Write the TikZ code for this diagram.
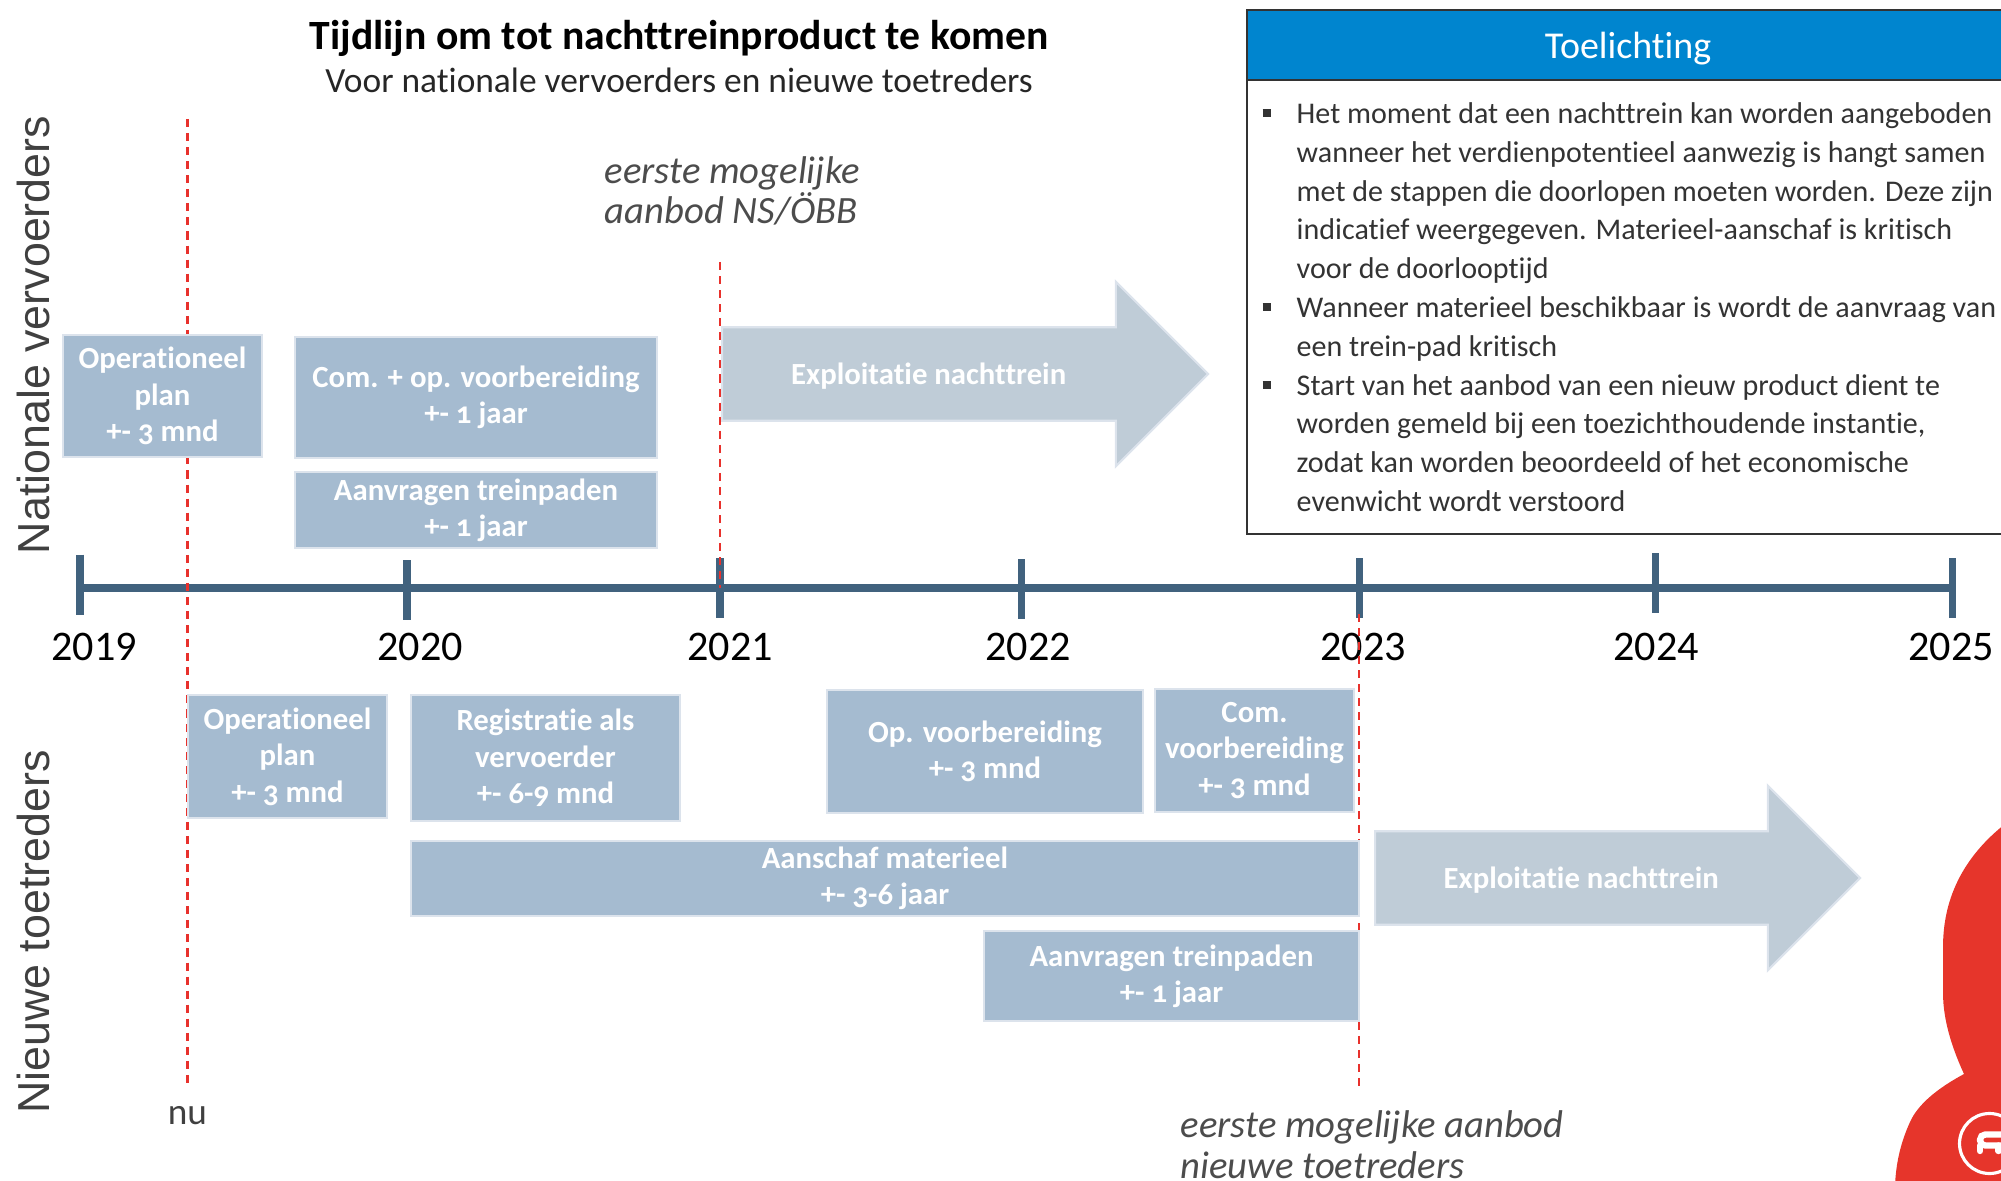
\documentclass[tikz,border=0pt]{standalone}
\usepackage{fontspec}
\setmainfont{Carlito}[Numbers=OldStyle, Ligatures=NoCommon]
\newfontfamily\yearfont{Carlito}
\newfontfamily\sidefont{Liberation Sans}
\usetikzlibrary{shapes.arrows}
\newcommand{\sqbullet}{\llap{\raisebox{0.45ex}{\rule{0.085cm}{0.08cm}}\hspace{0.255cm}}}
\begin{document}
\begin{tikzpicture}[
  taskbox/.style={rectangle, fill=taskblue, draw=taskedge, line width=0.8pt, align=center, text=white, font=\fontsize{8.75}{10.35}\selectfont\bfseries, inner sep=0pt, execute at begin node={\rule{0pt}{9.4pt}}},
  runarrow/.style={single arrow, single arrow head extend=0.455cm, single arrow head indent=0pt, minimum width=1.83cm, inner xsep=0pt, inner ysep=10pt, text height=6pt, text depth=0pt, fill=arrowgrey, draw=taskedge, line width=0.6pt, text=white, font=\fontsize{8.75}{10.2}\selectfont\bfseries},
  nowline/.style={nowred, dash pattern=on 2.3pt off 1.7pt, line width=0.6pt},
  axisline/.style={axisblue, line width=2.1pt},
  tickline/.style={axisblue, line width=2pt},
  yearlabel/.style={font=\fontsize{12}{12}\selectfont\yearfont, inner sep=0pt},
  sidelabel/.style={rotate=90, font=\fontsize{12.75}{14}\selectfont\sidefont, text=black!75, inner sep=0pt},
  notelabel/.style={anchor=west, align=left, font=\fontsize{11}{11.6}\selectfont\itshape, text=black!70, inner sep=0pt}
]
\definecolor{taskblue}{HTML}{A5BBD0}
\definecolor{taskedge}{HTML}{DCE3EC}
\definecolor{arrowgrey}{HTML}{BFCCD7}
\definecolor{axisblue}{HTML}{41627E}
\definecolor{headblue}{HTML}{0085CF}
\definecolor{logored}{HTML}{E6352B}
\definecolor{nowred}{HTML}{E8312C}
\useasboundingbox (0,0) rectangle (20.01,11.80);
\clip (0,0) rectangle (20.01,11.80);

% Title
\node[font=\fontsize{11.85}{12}\selectfont\bfseries, inner sep=0pt] (title) at (6.79,11.42) {Tijdlijn om tot nachttreinproduct te komen};
\node[font=\fontsize{10.07}{12}\selectfont, text=black!85, inner sep=0pt] (subtitle) at (6.79,11.00) {Voor nationale vervoerders en nieuwe toetreders};

% Side labels
\node[sidelabel] (side_nat) at (0.33,8.45) {Nationale vervoerders};
\node[sidelabel] (side_new) at (0.33,2.48) {Nieuwe toetreders};

% Axis
\coordinate (axis_start) at (0.80,5.92);
\coordinate (axis_end) at (19.52,5.92);
\foreach \yr/\xpos/\ymid/\lblx in {2019/0.80/5.955/0.94, 2020/4.07/5.90/4.20, 2021/7.20/5.92/7.30, 2022/10.21/5.91/10.28, 2023/13.59/5.92/13.63, 2024/16.55/5.97/16.56, 2025/19.52/5.92/19.51} {
  \coordinate (tick_top_\yr) at (\xpos,\ymid+0.30);
  \coordinate (tick_bot_\yr) at (\xpos,\ymid-0.30);
  \node[yearlabel] (year_\yr) at (\lblx,5.33) {\yr};
}
\draw[axisline] (axis_start) -- (axis_end);
\foreach \yr in {2019,...,2025} {
  \draw[tickline] (tick_top_\yr) -- (tick_bot_\yr);
}

% Now lines
\coordinate (now_top) at (1.875,10.61);
\coordinate (now_bot) at (1.875,0.92);
\coordinate (nat_top) at (7.20,9.18);
\coordinate (nat_bot) at (7.20,5.92);
\coordinate (new_top) at (13.59,5.66);
\coordinate (new_bot) at (13.59,0.92);
\draw[nowline] (now_top) -- (now_bot);
\draw[nowline] (nat_top) -- (nat_bot);
\draw[nowline] (new_top) -- (new_bot);
\node[font=\fontsize{10.6}{11}\selectfont, text=black!75, inner sep=0pt] (now_lbl) at (1.875,0.64) {nu};

% Upper row
\node[taskbox, minimum width=1.99cm, minimum height=1.22cm] (plan_nat) at (1.625,7.84) {Operationeel\\plan\\+- 3 mnd};
\node[taskbox, minimum width=3.62cm, minimum height=1.21cm] (com_nat) at (4.76,7.825) {Com. + op. voorbereiding\\+- 1 jaar};
\node[taskbox, minimum width=3.62cm, minimum height=0.76cm] (path_nat) at (4.76,6.70) {Aanvragen treinpaden\\+- 1 jaar};
\node[runarrow, minimum height=4.86cm, anchor=tail] (run_nat) at (7.21,8.06) {Exploitatie nachttrein\hspace*{0.26cm}};

% Lower row
\node[taskbox, minimum width=1.99cm, minimum height=1.23cm] (plan_new) at (2.875,4.235) {Operationeel\\plan\\+- 3 mnd};
\node[taskbox, minimum width=2.69cm, minimum height=1.26cm] (reg_new) at (5.455,4.22) {Registratie als\\vervoerder\\+- 6-9 mnd};
\node[taskbox, minimum width=3.16cm, minimum height=1.23cm] (op_new) at (9.85,4.285) {Op. voorbereiding\\+- 3 mnd};
\node[taskbox, minimum width=1.99cm, minimum height=1.23cm] (com_new) at (12.545,4.295) {Com.\\voorbereiding\\+- 3 mnd};
\node[taskbox, minimum width=9.48cm, minimum height=0.75cm] (buy_new) at (8.85,3.015) {Aanschaf materieel\\+- 3-6 jaar};
\node[taskbox, minimum width=3.75cm, minimum height=0.90cm] (path_new) at (11.715,2.04) {Aanvragen treinpaden\\+- 1 jaar};
\node[runarrow, minimum height=4.85cm, anchor=tail] (run_new) at (13.74,3.02) {Exploitatie nachttrein\hspace*{0.26cm}};

% Remarks
\node[notelabel] (first_nat) at (6.04,9.89) {eerste mogelijke\\aanbod NS/ÖBB};
\node[notelabel] (first_new) at (11.80,0.35) {eerste mogelijke aanbod\\nieuwe toetreders};

% Explanation panel
\node[rectangle, draw=black!80, line width=0.6pt, fill=white, minimum width=7.62cm, minimum height=4.54cm, anchor=north west, inner sep=0pt] (note_body) at (12.46,11.01) {};
\node[rectangle, draw=black!80, line width=0.6pt, fill=headblue, minimum width=7.62cm, minimum height=0.70cm, anchor=north west, text=white, text depth=0pt, font=\fontsize{10.8}{12}\selectfont, inner sep=0pt] (note_head) at (12.46,11.71) {Toelichting};
\node[anchor=north west, align=left, inner sep=0pt, text=black!80, font=\fontsize{8.55}{11.04}\selectfont] (note_text) at (12.96,10.78) {%
\sqbullet Het moment dat een nachttrein kan worden aangeboden\\
wanneer het verdienpotentieel aanwezig is hangt samen\\
met de stappen die doorlopen moeten worden. Deze zijn\\
indicatief weergegeven. Materieel-aanschaf is kritisch\\
voor de doorlooptijd\\
\sqbullet Wanneer materieel beschikbaar is wordt de aanvraag van\\
een trein-pad kritisch\\
\sqbullet Start van het aanbod van een nieuw product dient te\\
worden gemeld bij een toezichthoudende instantie,\\
zodat kan worden beoordeeld of het economische\\
evenwicht wordt verstoord};

% Logo
\fill[logored] (20.05,3.56) .. controls (19.66,3.25) and (19.43,2.85) .. (19.43,2.33) -- (19.43,1.87) .. controls (19.43,1.60) and (19.52,1.32) .. (19.64,1.06) .. controls (19.38,0.92) and (19.18,0.76) .. (19.10,0.58) .. controls (19.00,0.36) and (18.96,0.16) .. (18.95,-0.05) -- (20.05,-0.05) -- cycle;
\draw[white, line width=0.9pt] (19.895,0.365) circle (0.30);
\draw[white, line width=1.8pt, line cap=round, rounded corners=1.5pt] (20.05,0.455) -- (19.80,0.455) -- (19.80,0.345) -- (20.05,0.345);
\draw[white, line width=1.8pt, line cap=round] (19.80,0.345) -- (19.80,0.29);
\draw[white, line width=1.8pt, line cap=round] (19.985,0.345) -- (19.985,0.29);
\end{tikzpicture}
\end{document}
